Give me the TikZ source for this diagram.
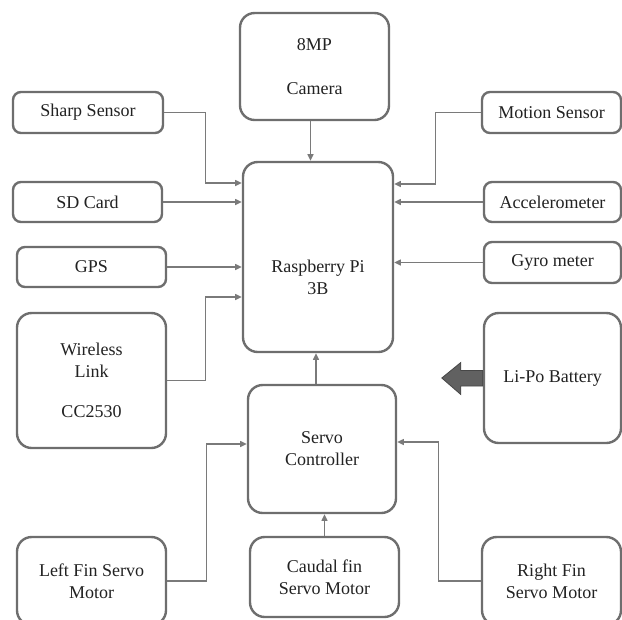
\documentclass[tikz,border=0pt]{standalone}
\usepackage{fontspec}
\setmainfont{Liberation Serif}
\usetikzlibrary{arrows.meta,calc}
\definecolor{bord}{HTML}{6E6E6E}
\definecolor{conn}{HTML}{7A7A7A}
\definecolor{txt}{HTML}{222222}
\begin{document}
\begin{tikzpicture}[x=0.75pt,y=-0.75pt,
  box/.style={draw=bord,line width=1.8pt,rounded corners=6pt,fill=white,
    align=center,text=txt,font=\fontsize{13.5}{16.5}\selectfont,inner sep=0pt},
  bigbox/.style={box,rounded corners=11pt},
  wire/.style={draw=conn,line width=0.9pt,-{Triangle[length=5pt,width=4.5pt]}},
  lbl/.style={align=center,text=txt,font=\fontsize{13.5}{16.5}\selectfont,inner sep=0pt}]
\useasboundingbox (0,0) rectangle (622,619);
% boxes
\node[bigbox,minimum width=111.75pt,minimum height=80.25pt] (camera) at (314.5,66.5) {8MP\\[16pt]Camera};
\node[box,minimum width=112.5pt,minimum height=30.75pt] (sharp) at (88,112.5) {Sharp Sensor};
\node[box,minimum width=111.75pt,minimum height=30pt] (sd) at (87.5,202) {SD Card};
\node[box,minimum width=111.75pt,minimum height=30pt] (gps) at (91.5,267) {GPS};
\node[bigbox,minimum width=111.75pt,minimum height=101.25pt] (wireless) at (91.5,380.5) {Wireless\\Link\\[13.5pt]CC2530};
\node[bigbox,minimum width=112.5pt,minimum height=142.5pt] (pi) at (318,257) {};
\node[lbl] (pitext) at (318,277) {Raspberry Pi\\3B};
\node[box,minimum width=104.25pt,minimum height=30.75pt] (motion) at (551.5,112.5) {Motion Sensor};
\node[box,minimum width=102.75pt,minimum height=30pt] (accel) at (552.5,202) {Accelerometer};
\node[box,minimum width=102.75pt,minimum height=30.75pt] (gyro) at (552.5,262.5) {Gyro meter};
\node[bigbox,minimum width=102.75pt,minimum height=97.5pt] (lipo) at (552.5,378) {Li-Po Battery};
\node[bigbox,minimum width=111pt,minimum height=96pt] (servo) at (322,449) {Servo\\Controller};
\node[bigbox,minimum width=111.75pt,minimum height=66pt] (left) at (91.5,581) {Left Fin Servo\\Motor};
\node[bigbox,minimum width=111.75pt,minimum height=60pt] (caudal) at (324.5,577) {Caudal fin\\Servo Motor};
\node[bigbox,minimum width=104.25pt,minimum height=66pt] (right) at (551.5,581) {Right Fin\\Servo Motor};
% connectors
\draw[wire] ($(camera.south)+(-4,0)$) -- ($(camera.south |- pi.north)+(-4,0)$);
\draw[wire] (sharp.east) -- ++(41,0) |- ($(pi.west)+(0,-74)$);
\draw[wire] (sd.east) -- (sd.east -| pi.west);
\draw[wire] (gps.east) -- (gps.east -| pi.west);
\draw[wire] (wireless.east) -- ++(38,0) |- ($(pi.west)+(0,40)$);
\draw[wire] (motion.west) -- ++(-45,0) |- ($(pi.east)+(0,-73)$);
\draw[wire] (accel.west) -- (accel.west -| pi.east);
\draw[wire] (gyro.west) -- (gyro.west -| pi.east);
\draw[wire] ($(servo.north)+(-6,0)$) -- ($(servo.north |- pi.south)+(-6,0)$);
\draw[wire] (caudal.north) -- (caudal.north |- servo.south);
\draw[wire] (left.east) -- ++(39,0) |- ($(servo.west)+(0,-5)$);
\draw[wire] (right.west) -- ++(-42,0) |- ($(servo.east)+(0,-7)$);
% power arrow
\coordinate (pa) at (lipo.west);
\filldraw[fill=black!62,draw=black!72,line width=0.6pt]
  ($(pa)+(0,-7.5)$) -- ++(-22,0) -- ++(0,-8) -- ++(-19,15.5) -- ++(19,16.5) -- ++(0,-8.5) -- ++(22,0) -- cycle;
\end{tikzpicture}
\end{document}
